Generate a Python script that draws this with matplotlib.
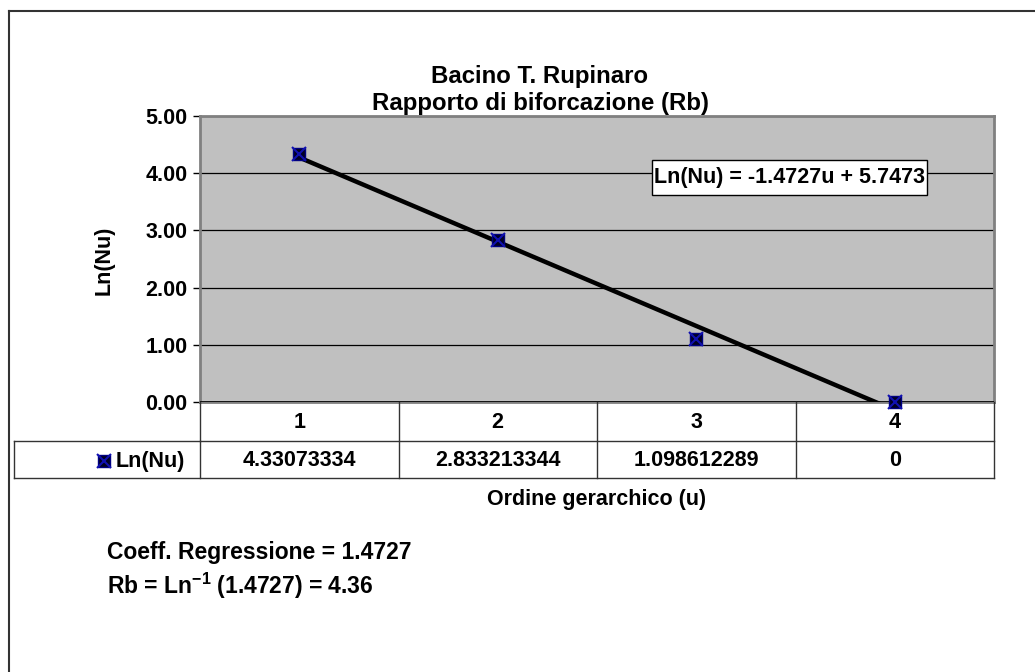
import numpy as np
import matplotlib.pyplot as plt
from matplotlib.transforms import blended_transform_factory
from matplotlib.patches import Rectangle

plt.rcParams['font.family'] = ['Liberation Sans', 'DejaVu Sans']
plt.rcParams['font.weight'] = 'bold'
plt.rcParams['mathtext.default'] = 'regular'

ordine = [1, 2, 3, 4]
ln_nu = [4.33073334, 2.833213344, 1.098612289, 0.0]
ln_nu_txt = ["4.33073334", "2.833213344", "1.098612289", "0"]
y_ticks = [0, 1, 2, 3, 4, 5]

W, H = 1035, 672
FS = 15.5
fig = plt.figure(figsize=(W / 100, H / 100), dpi=100)

def px(x, y):
    return x / W, 1 - y / H

# outer chart border (only top/left visible in the reference)
fig.add_artist(plt.Line2D([9 / W, 1], [1 - 11 / H, 1 - 11 / H], color='#333333', lw=1.5))
fig.add_artist(plt.Line2D([9 / W, 9 / W], [0, 1 - 11 / H], color='#333333', lw=1.5))

x0, x1, ytop, ybot = 200, 994, 116, 402
ax = fig.add_axes([x0 / W, 1 - ybot / H, (x1 - x0) / W, (ybot - ytop) / H])
ax.set_facecolor('#C0C0C0')
ax.set_xlim(0.5, 4.5)
ax.set_ylim(0, 5)
ax.set_yticks(y_ticks)
ax.set_yticklabels([f"{v:.2f}" for v in y_ticks], fontsize=FS, fontweight='bold')
ax.set_xticks([])
ax.tick_params(axis='y', direction='out', length=5, width=1, color='black', pad=4)
ax.grid(axis='y', color='black', lw=0.9)
ax.set_axisbelow(True)
for s in ax.spines.values():
    s.set_color('#808080')
    s.set_linewidth(2)
ax.axhline(0, color='black', lw=1.2, zorder=3)

# trendline (linear regression)
slope, intercept = np.polyfit(ordine, ln_nu, 1)
xs = np.array([ordine[0], ordine[-1]])
ax.plot(xs, slope * xs + intercept, color='black', lw=3.2, zorder=4)

# markers
ax.plot(ordine, ln_nu, ls='none', marker='s', ms=9, mfc='#000022', mec='#000080', zorder=5, clip_on=False)
ax.plot(ordine, ln_nu, ls='none', marker='x', ms=10, mew=1.5, color='#1010B0', zorder=6, clip_on=False)

eq = ax.text(3.47, 3.93, f"Ln(Nu) = {slope:.4f}u + {intercept:.4f}", fontsize=FS, fontweight='bold',
             ha='center', va='center', zorder=8)
# box around the equation: tight horizontally, more room vertically
fig.canvas.draw()
bb = eq.get_window_extent().transformed(ax.transAxes.inverted())
padx, pady = 2 / (x1 - x0), 7 / (ybot - ytop)
ax.add_patch(Rectangle((bb.x0 - padx, bb.y0 - pady), bb.width + 2 * padx, bb.height + 2 * pady,
                       transform=ax.transAxes, fc='white', ec='black', lw=1, zorder=7))

# data table below the plot
tr = blended_transform_factory(ax.transData, fig.transFigure)
r0, r1, r2 = 1 - 402 / H, 1 - 441 / H, 1 - 478 / H
lc = '#333333'
bounds = [o - 0.5 for o in ordine] + [ordine[-1] + 0.5]
for b in bounds:
    fig.add_artist(plt.Line2D([b, b], [r2, r0], color=lc, lw=1, transform=tr))
fig.add_artist(plt.Line2D([0.5, 4.5], [r1, r1], color=lc, lw=1, transform=tr))
fig.add_artist(plt.Line2D([14 / W, x1 / W], [r2, r2], color=lc, lw=1))
fig.add_artist(plt.Line2D([14 / W, 200 / W], [r1, r1], color=lc, lw=1))
fig.add_artist(plt.Line2D([14 / W, 14 / W], [r2, r1], color=lc, lw=1))
for o, t in zip(ordine, ln_nu_txt):
    fig.text(o, 1 - 422 / H, str(o), transform=tr, ha='center', va='center', fontsize=FS, fontweight='bold')
    fig.text(o, 1 - 461 / H, t, transform=tr, ha='center', va='center', fontsize=FS, fontweight='bold')

# legend key in table
lx, ly = px(104, 461)
fig.add_artist(plt.Line2D([lx], [ly], ls='none', marker='s', ms=9, mfc='#000022', mec='#000080'))
fig.add_artist(plt.Line2D([lx], [ly], ls='none', marker='x', ms=10, mew=1.5, color='#1010B0'))
fig.text(*px(116, 461), "Ln(Nu)", ha='left', va='center', fontsize=FS, fontweight='bold')

# titles and labels
fig.text(*px(540, 90), "Bacino T. Rupinaro\nRapporto di biforcazione (Rb)", ha='center', va='center',
         fontsize=17.3, fontweight='bold', linespacing=1.27)
fig.text(*px(104, 260), "Ln(Nu)", rotation=90, ha='center', va='center', fontsize=FS, fontweight='bold')
fig.text(*px(597, 500), "Ordine gerarchico (u)", ha='center', va='center', fontsize=FS, fontweight='bold')

fig.text(*px(107, 553), f"Coeff. Regressione = {-slope:.4f}", ha='left', va='center', fontsize=16.5,
         fontweight='bold')
fig.text(*px(107, 586), f"Rb = Ln$^{{-1}}$ ({-slope:.4f}) = {np.exp(-slope):.2f}", ha='left', va='center',
         fontsize=16.5, fontweight='bold')

fig.savefig('out.png', dpi=100)
